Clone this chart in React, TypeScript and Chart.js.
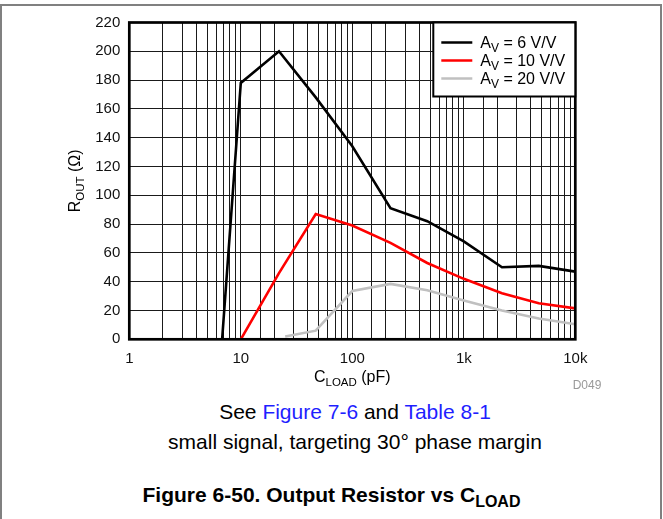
import React, { useEffect, useRef } from 'react';
import { Chart, registerables } from 'chart.js';

Chart.register(...registerables);

// ---- Data ----
const capacitanceAv6 = [6.8, 10, 22, 47, 100, 220, 470, 1000, 2200, 4700, 10000];
const routAv6 = [0, 178, 200, 168, 134, 91, 82, 68, 50, 51, 47];

const capacitanceAv10 = [10, 22, 47, 100, 220, 470, 1000, 2200, 4700, 10000];
const routAv10 = [0, 46, 87, 79, 67, 53, 42, 32, 25, 21.5];

const capacitanceAv20 = [25, 47, 100, 220, 470, 1000, 2200, 4700, 10000];
const routAv20 = [2, 6, 33.5, 38.5, 34, 27, 20, 14.5, 10.5];

const seriesGains = ['6', '10', '20'];
const seriesColors = ['#000000', '#ff0000', '#c0c0c0'];

const xTickLabels: Record<string, string> = { '1': '1', '10': '10', '100': '100', '1000': '1k', '10000': '10k' };
const yMin = 0;
const yMax = 220;
const yStep = 20;

const FONT = "'Liberation Sans', Arial, Helvetica, sans-serif";

function toPoints(xs: number[], ys: number[]) {
  return xs.map((x, i) => ({ x, y: ys[i] }));
}

function drawSubText(
  ctx: CanvasRenderingContext2D,
  parts: { t: string; sub?: boolean }[],
  x: number,
  y: number,
  size: number,
  subSize: number,
  subDrop: number,
  align: 'left' | 'center'
) {
  const widths = parts.map((p) => {
    ctx.font = `${p.sub ? subSize : size}px ${FONT}`;
    return ctx.measureText(p.t).width;
  });
  const total = widths.reduce((a, b) => a + b, 0);
  let cx = align === 'center' ? x - total / 2 : x;
  ctx.textAlign = 'left';
  ctx.textBaseline = 'alphabetic';
  parts.forEach((p, i) => {
    ctx.font = `${p.sub ? subSize : size}px ${FONT}`;
    ctx.fillText(p.t, cx, p.sub ? y + subDrop : y);
    cx += widths[i];
  });
}

const decorPlugin = {
  id: 'decor',
  afterDatasetsDraw(chart: any) {
    const { ctx, chartArea } = chart;
    const { left, right, top, bottom } = chartArea;
    ctx.save();
    // plot frame
    ctx.strokeStyle = '#000';
    ctx.lineWidth = 2.7;
    ctx.strokeRect(left, top, right - left, bottom - top);

    // legend box
    const lw = 142;
    const lh = 74;
    const lx = right - lw;
    const ly = top;
    ctx.fillStyle = '#fff';
    ctx.fillRect(lx, ly, lw, lh);
    ctx.lineWidth = 2;
    ctx.strokeStyle = '#000';
    ctx.strokeRect(lx, ly, lw, lh);
    seriesGains.forEach((g, i) => {
      const base = ly + 25.5 + i * 18;
      ctx.strokeStyle = seriesColors[i];
      ctx.lineWidth = 2.5;
      ctx.beginPath();
      ctx.moveTo(lx + 8, base - 5.5);
      ctx.lineTo(lx + 39, base - 5.5);
      ctx.stroke();
      ctx.fillStyle = '#000';
      drawSubText(ctx, [{ t: 'A' }, { t: 'V', sub: true }, { t: ` = ${g} V/V` }], lx + 47, base, 16, 12, 3.5, 'left');
    });

    // x-axis title
    ctx.fillStyle = '#000';
    drawSubText(ctx, [{ t: 'C' }, { t: 'LOAD', sub: true }, { t: ' (pF)' }], (left + right) / 2, 382, 16, 11.5, 3.5, 'center');

    // y-axis title
    ctx.save();
    ctx.translate(80, (top + bottom) / 2);
    ctx.rotate(-Math.PI / 2);
    drawSubText(ctx, [{ t: 'R' }, { t: 'OUT', sub: true }, { t: ' (\u03A9)' }], 0, 0, 16, 11.5, 3.5, 'center');
    ctx.restore();

    // figure code
    ctx.fillStyle = '#999';
    ctx.font = `12px ${FONT}`;
    ctx.textAlign = 'center';
    ctx.textBaseline = 'alphabetic';
    ctx.fillText('D049', 587, 389);
    ctx.restore();
  },
};

export default function App() {
  const canvasRef = useRef<HTMLCanvasElement | null>(null);

  useEffect(() => {
    if (!canvasRef.current) return;
    const chart = new Chart(canvasRef.current, {
      type: 'line',
      data: {
        datasets: [
          { label: 'AV = 6 V/V', data: toPoints(capacitanceAv6, routAv6), borderColor: seriesColors[0] },
          { label: 'AV = 10 V/V', data: toPoints(capacitanceAv10, routAv10), borderColor: seriesColors[1] },
          { label: 'AV = 20 V/V', data: toPoints(capacitanceAv20, routAv20), borderColor: seriesColors[2] },
        ].map((d) => ({ ...d, borderWidth: 2.6, pointRadius: 0, tension: 0, fill: false })),
      },
      options: {
        animation: false,
        responsive: false,
        devicePixelRatio: 1,
        layout: { padding: { left: 0, right: 87.7, top: 22.5, bottom: 0 } },
        plugins: { legend: { display: false }, tooltip: { enabled: false } },
        scales: {
          x: {
            type: 'logarithmic',
            min: 1,
            max: 10000,
            afterFit: (s: any) => {
              s.height = 60.7;
            },
            grid: { color: '#1a1a1a', lineWidth: 1, drawTicks: false },
            border: { display: false },
            ticks: {
              autoSkip: false,
              maxRotation: 0,
              padding: 11,
              color: '#111',
              font: { family: FONT, size: 15 },
              callback: (v: any) => xTickLabels[String(v)] ?? '',
            },
          },
          y: {
            type: 'linear',
            min: yMin,
            max: yMax,
            afterFit: (s: any) => {
              s.width = 129.3;
            },
            grid: { color: '#1a1a1a', lineWidth: 1, drawTicks: false },
            border: { display: false },
            ticks: {
              stepSize: yStep,
              padding: 9,
              color: '#111',
              font: { family: FONT, size: 15 },
            },
          },
        },
      },
      plugins: [decorPlugin],
    } as any);
    return () => chart.destroy();
  }, []);

  const textStyle: React.CSSProperties = {
    position: 'absolute',
    left: 0,
    width: 710,
    textAlign: 'center',
    fontFamily: FONT,
    fontSize: 21,
    lineHeight: '24px',
    color: '#000',
    whiteSpace: 'nowrap',
  };
  const link: React.CSSProperties = { color: '#1f1fff' };

  return (
    <div style={{ position: 'absolute', left: 0, top: 0, width: 663, height: 519, background: '#fff', overflow: 'hidden' }}>
      <div
        style={{
          position: 'absolute',
          left: 0,
          top: 4,
          width: 662,
          height: 520,
          boxSizing: 'border-box',
          borderTop: '2px solid #808080',
          borderLeft: '2px solid #808080',
          borderRight: '2px solid #808080',
        }}
      />
      <canvas ref={canvasRef} width={663} height={400} style={{ position: 'absolute', left: 0, top: 0 }} />
      <div style={{ ...textStyle, top: 400 }}>
        See <span style={link}>Figure 7-6</span> and <span style={link}>Table 8-1</span>
      </div>
      <div style={{ ...textStyle, top: 430 }}>small signal, targeting 30° phase margin</div>
      <div style={{ ...textStyle, width: 663, top: 483, fontWeight: 'bold', fontSize: 21 }}>
        Figure 6-50. Output Resistor vs C
        <span style={{ fontSize: 16, position: 'relative', top: 5 }}>LOAD</span>
      </div>
    </div>
  );
}
